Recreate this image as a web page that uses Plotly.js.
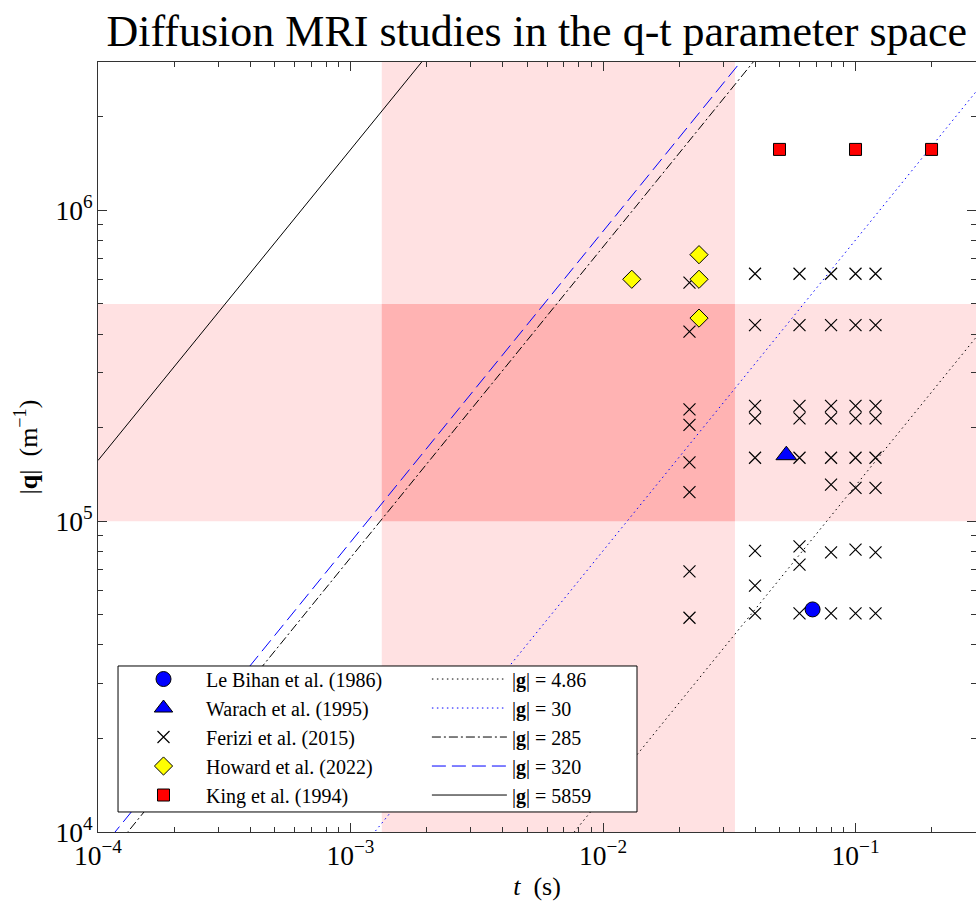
<!DOCTYPE html>
<html>
<head>
<meta charset="utf-8">
<script src="https://cdn.plot.ly/plotly-3.0.1.min.js"></script>
<style>html,body{margin:0;padding:0;background:#fff;}#chart{width:976px;height:908px;}</style>
</head>
<body>
<div id="chart"></div>
<script>
// ---- data ----
const leBihanT = [0.0676];
const leBihanQ = [5.2e4];

const warachT = [0.0532];
const warachQ = [1.63e5];

const feriziT = [
  0.022,0.022,0.022,0.022,0.022,0.022,0.022,0.022,
  0.04,0.04,0.04,0.04,0.04,0.04,0.04,0.04,
  0.06,0.06,0.06,0.06,0.06,0.06,0.06,0.06,
  0.08,0.08,0.08,0.08,0.08,0.08,0.08,0.08,
  0.1,0.1,0.1,0.1,0.1,0.1,0.1,0.1,
  0.12,0.12,0.12,0.12,0.12,0.12,0.12,0.12
];
const feriziQ = [
  5.85e5,4.07e5,2.29e5,2.04e5,1.545e5,1.24e5,6.89e4,4.89e4,
  6.25e5,4.27e5,2.35e5,2.14e5,1.60e5,8.02e4,6.2e4,5.05e4,
  6.25e5,4.27e5,2.35e5,2.14e5,1.60e5,8.3e4,7.25e4,5.05e4,
  6.25e5,4.27e5,2.35e5,2.14e5,1.60e5,1.31e5,7.94e4,5.05e4,
  6.25e5,4.27e5,2.35e5,2.14e5,1.60e5,1.28e5,8.1e4,5.05e4,
  6.25e5,4.27e5,2.35e5,2.14e5,1.60e5,1.28e5,7.94e4,5.05e4
];

const howardT = [0.013, 0.024, 0.024, 0.024];
const howardQ = [6.0e5, 7.2e5, 6.0e5, 4.5e5];

const kingT = [0.05, 0.1, 0.2];
const kingQ = [1.57e6, 1.57e6, 1.57e6];

// gradient strengths |g| (mT/m) for iso-gradient lines q = gamma * g * t
const gradients = [4.86, 30, 285, 320, 5859];
const gradientLabels = ['4.86', '30', '285', '320', '5859'];
const gammaProton = 2.675e8; // rad s^-1 T^-1
const lineTRange = [1e-4, 1];

// shaded bands
const bandT = [1.33e-3, 0.0333];
const bandQ = [1e5, 5e5];

// axis ranges
const tRange = [1e-4, 0.3];
const qRange = [1e4, 3e6];

// ---- styles ----
const FONT = 'Liberation Serif, Times New Roman, serif';
const lineStyles = [
  {color: 'black', dash: '1.5px,3.5px'},
  {color: 'blue', dash: '1.5px,3.5px'},
  {color: 'black', dash: '9px,3px,2px,3px'},
  {color: 'blue', dash: '14px,6px'},
  {color: 'black', dash: 'solid'}
];

const markerTraces = [
  {name: 'Le Bihan et al. (1986)', x: leBihanT, y: leBihanQ,
   marker: {symbol: 'circle', size: 15, color: 'blue', line: {color: 'black', width: 1}}},
  {name: 'Warach et al. (1995)', x: warachT, y: warachQ,
   marker: {symbol: 'triangle-up', size: 18, color: 'blue', line: {color: 'black', width: 1}}},
  {name: 'Ferizi et al. (2015)', x: feriziT, y: feriziQ,
   marker: {symbol: 'x-thin-open', size: 12, color: 'black', line: {color: 'black', width: 1.2}}},
  {name: 'Howard et al. (2022)', x: howardT, y: howardQ,
   marker: {symbol: 'diamond', size: 14, color: 'yellow', line: {color: 'black', width: 1}}},
  {name: 'King et al. (1994)', x: kingT, y: kingQ,
   marker: {symbol: 'square', size: 12, color: 'red', line: {color: 'black', width: 1}}}
].map(t => Object.assign({type: 'scatter', mode: 'markers', legend: 'legend'}, t));

const lineTraces = gradients.map((g, i) => ({
  type: 'scatter', mode: 'lines', legend: 'legend2',
  name: '|<b>g</b>| = ' + gradientLabels[i],
  x: lineTRange,
  y: lineTRange.map(t => gammaProton * g * 1e-3 * t),
  line: {color: lineStyles[i].color, dash: lineStyles[i].dash, width: 1}
}));

const data = lineTraces.concat(markerTraces);

const shapes = [
  {type: 'rect', xref: 'x', yref: 'paper', layer: 'below', line: {width: 0}, fillcolor: '#ffe1e2',
   x0: bandT[0], x1: bandT[1], y0: 0, y1: 1},
  {type: 'rect', xref: 'paper', yref: 'y', layer: 'below', line: {width: 0}, fillcolor: '#ffe1e2',
   x0: 0, x1: 1, y0: bandQ[0], y1: bandQ[1]},
  {type: 'rect', xref: 'x', yref: 'y', layer: 'below', line: {width: 0}, fillcolor: '#ffb3b3',
   x0: bandT[0], x1: bandT[1], y0: bandQ[0], y1: bandQ[1]},
  // legend frame
  {type: 'rect', xref: 'paper', yref: 'paper', layer: 'above', line: {width: 1, color: 'black'}, fillcolor: 'white',
   x0: 0.0228, x1: 0.6139, y0: 0.026, y1: 0.2156}
];

const axisCommon = {
  type: 'log', dtick: 1, exponentformat: 'power', showgrid: false, zeroline: false,
  ticks: 'inside', ticklen: 9, tickwidth: 1, tickcolor: '#333',
  showline: true, linecolor: '#333', linewidth: 1, mirror: 'allticks',
  tickfont: {family: FONT, size: 22, color: 'black'},
  minor: {ticks: 'inside', ticklen: 5, tickwidth: 1, tickcolor: '#333', showgrid: false}
};

const legendCommon = {
  yanchor: 'top', xanchor: 'left', y: 0.224,
  orientation: 'v', itemwidth: 75, itemsizing: 'trace',
  bgcolor: 'rgba(0,0,0,0)', borderwidth: 0,
  font: {family: FONT, size: 20, color: 'black'},
  tracegroupgap: 0
};

const layout = {
  width: 976, height: 908,
  margin: {l: 98, r: 0, t: 62, b: 76},
  paper_bgcolor: 'white', plot_bgcolor: 'white',
  font: {family: FONT, color: 'black'},
  title: {text: 'Diffusion MRI studies in the q-t parameter space', font: {family: FONT, size: 44, color: 'black'},
          x: 0.55, xanchor: 'center', y: 0.966, yanchor: 'middle'},
  xaxis: Object.assign({}, axisCommon, {
    range: [Math.log10(tRange[0]), Math.log10(tRange[1])],
    title: {text: '<i>t</i>  (s)', font: {family: FONT, size: 26, color: 'black'}, standoff: 6}
  }),
  yaxis: Object.assign({}, axisCommon, {
    range: [Math.log10(qRange[0]), Math.log10(qRange[1])],
    title: {text: '|<b>q</b>|  (m<sup>−1</sup>)', font: {family: FONT, size: 26, color: 'black'}, standoff: 10}
  }),
  shapes: shapes,
  showlegend: true,
  legend: Object.assign({}, legendCommon, {x: 0.0262}),
  legend2: Object.assign({}, legendCommon, {x: 0.3746})
};

Plotly.newPlot('chart', data, layout, {displayModeBar: false, staticPlot: true});
</script>
</body>
</html>
